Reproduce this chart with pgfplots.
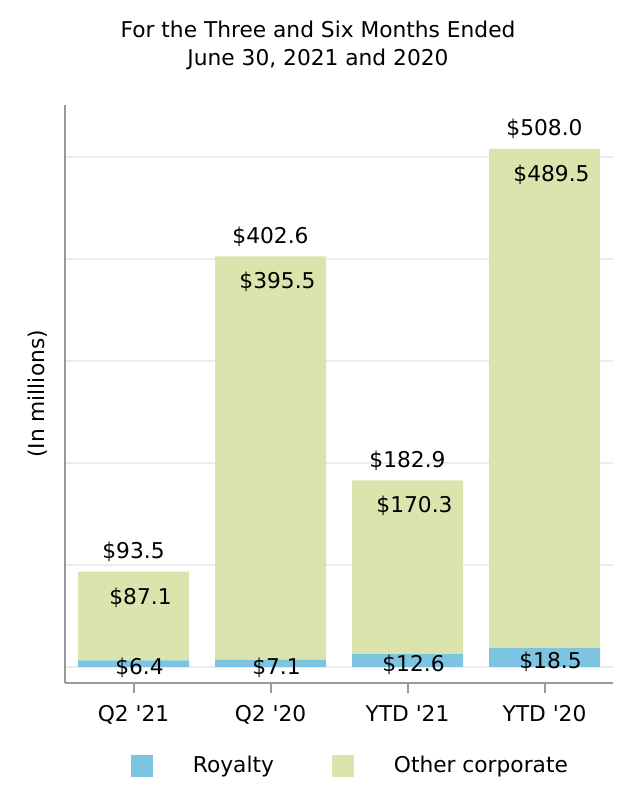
\documentclass[border=0pt]{standalone}
\usepackage{fontspec}
\setmainfont{DejaVu Sans}[Ligatures=TeXOff]
\usepackage{pgfplots}
\pgfplotsset{compat=1.18}
\definecolor{royal}{HTML}{7DC3E2}
\definecolor{othc}{HTML}{DCE4AD}
\definecolor{axgray}{HTML}{9A9A9A}
\begin{document}
\fontsize{16.3pt}{21pt}\selectfont
\begin{tikzpicture}
\useasboundingbox (0,0) rectangle (475.5pt,600pt);
\begin{axis}[
  at={(48.75pt,87.75pt)}, anchor=south west,
  scale only axis, width=411pt, height=433.5pt,
  ybar stacked, bar width=83.25pt,
  xmin=-0.5, xmax=3.5, ymin=-15.7, ymax=551,
  enlargelimits=false,
  /pgf/number format/assume math mode=true,
  axis x line*=bottom, axis y line*=left,
  axis line style={draw=axgray, line width=1.5pt, -},
  xtick={0,1,2,3},
  xticklabels={Q2 '21, Q2 '20, YTD '21, YTD '20},
  xticklabel style={yshift=-4pt},
  x tick style={draw=axgray, line width=1.5pt},
  tick align=outside, major tick length=7.5pt,
  ytick={0,100,200,300,400,500}, yticklabels={},
  y tick style={draw=none},
  ymajorgrids, grid style={color=gray!15, line width=1.5pt},
  ylabel={(In millions)},
  ylabel style={at={(axis description cs:-0.0493,0.5)}, anchor=center},
  title={For the Three and Six Months Ended\\June 30, 2021 and 2020},
  title style={align=center, at={(axis description cs:0.4617,1)}, anchor=south, inner sep=0pt, yshift=20.5pt},
  legend style={at={(0.519,-0.1436)}, anchor=center, draw=none, legend columns=2,
    nodes={inner sep=0pt}, cells={anchor=west},
    /tikz/every even column/.append style={column sep=43.5pt}},
  legend image code/.code={\fill[#1] (0pt,-8.25pt) rectangle (16.5pt,8.25pt); \path (46.5pt,0pt);},
  visualization depends on={rawy \as \rawy},
]
\addplot[fill=royal, draw=none,
  point meta=explicit,
  nodes near coords={\$\pgfmathprintnumber[fixed,fixed zerofill,precision=1]{\pgfplotspointmeta}},
  nodes near coords style={anchor=center, xshift=4.5pt, yshift=-3pt}]
  table[meta=m] {
x y m
0 6.4 6.4
1 7.1 7.1
2 12.6 12.6
3 18.5 18.5
};
\addplot[fill=othc, draw=none,
  point meta=explicit,
  nodes near coords={\$\pgfmathprintnumber[fixed,fixed zerofill,precision=1]{\pgfplotspointmeta}},
  nodes near coords style={anchor=center, xshift=5.25pt, yshift={(0.383*\rawy-19.5)*1pt}}]
  table[meta=m] {
x y m
0 87.1 87.1
1 395.5 395.5
2 170.3 170.3
3 489.5 489.5
};
\addplot[draw=none, fill=none,
  point meta=explicit,
  nodes near coords={\$\pgfmathprintnumber[fixed,fixed zerofill,precision=1]{\pgfplotspointmeta}},
  nodes near coords style={anchor=center, yshift=15pt}]
  table[meta=m] {
x y m
0 0.001 93.5
1 0.001 402.6
2 0.001 182.9
3 0.001 508.0
};
\legend{Royalty, Other corporate}
\end{axis}
\end{tikzpicture}
\end{document}
